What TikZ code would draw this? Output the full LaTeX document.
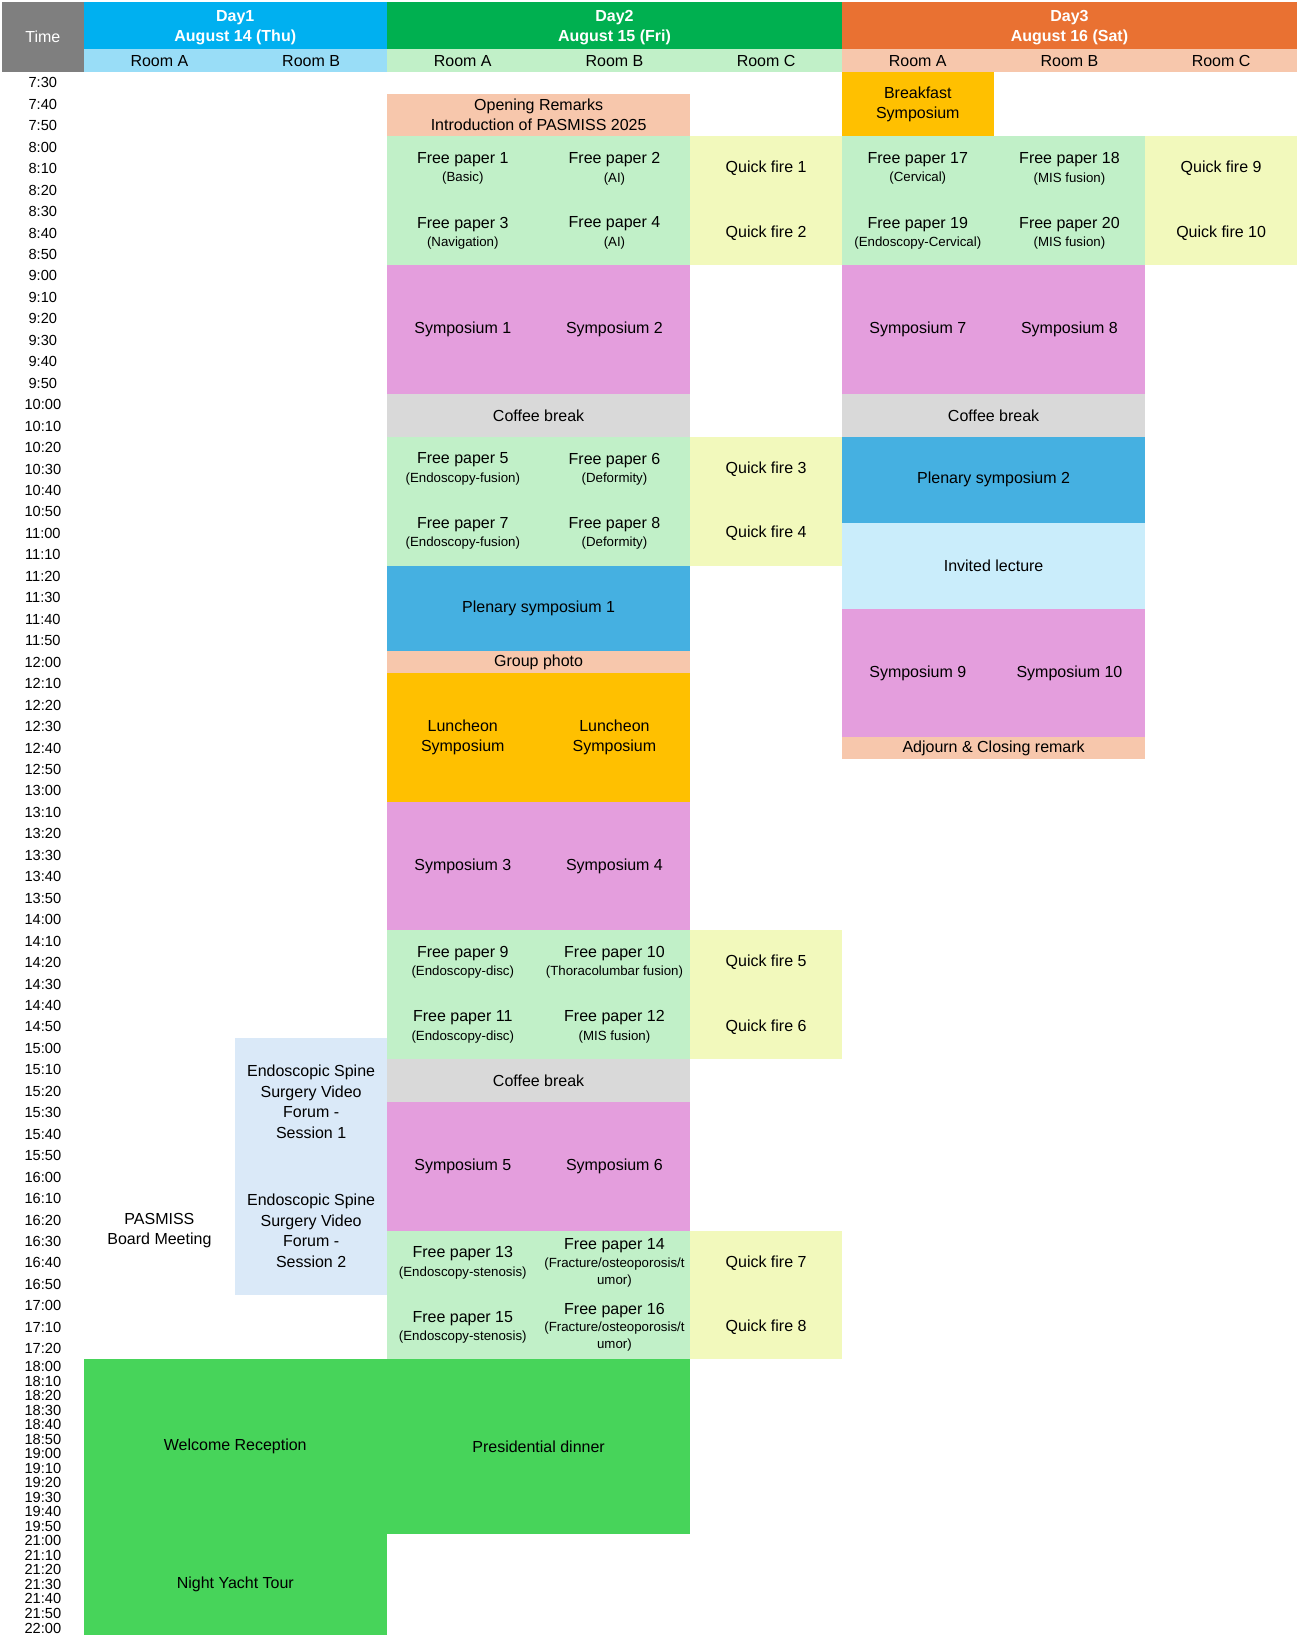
\documentclass[tikz,border=0pt]{standalone}
\usepackage{fontspec}
\setmainfont{Liberation Sans}
\definecolor{timegray}{HTML}{7F7F7F}
\definecolor{dayone}{HTML}{00B0F0}
\definecolor{daytwo}{HTML}{00B050}
\definecolor{daythree}{HTML}{E97132}
\definecolor{roomone}{HTML}{99DDF7}
\definecolor{peach}{HTML}{F7C7AC}
\definecolor{paleg}{HTML}{C1F0C8}
\definecolor{paley}{HTML}{F2F9BC}
\definecolor{orchid}{HTML}{E49EDD}
\definecolor{coffeeg}{HTML}{D9D9D9}
\definecolor{plenblue}{HTML}{45B0E1}
\definecolor{invblue}{HTML}{CAEDFB}
\definecolor{gold}{HTML}{FFC000}
\definecolor{videob}{HTML}{DAE9F8}
\definecolor{partyg}{HTML}{47D45A}
\newcommand{\sm}[1]{{\fontsize{12.7}{15}\selectfont #1}}
\newcommand{\slot}[7]{%
  \node[#2,anchor=north west,minimum width={145.125pt*((#4)-(#3))},minimum height={20.53pt*((#6)-(#5))}]
    (#1) at ({80+145.125*(#3)},{69+20.53*(#5)}) {#7};}
\newcommand{\evslot}[7]{%
  \node[#2,anchor=north west,minimum width={145.125pt*((#4)-(#3))},minimum height={13.9pt*((#6)-(#5))}]
    (#1) at ({80+145.125*(#3)},{1300.6+13.9*(#5)}) {#7};}
\tikzset{
  cell/.style={inner sep=1pt,outer sep=0pt,align=center,text=black,font=\fontsize{15.3}{19.6}\selectfont},
  dayhead/.style={cell,text=white,font=\fontsize{15.3}{19}\selectfont\bfseries},
  tlabel/.style={inner sep=0pt,text=black,font=\fontsize{14}{14}\selectfont},
  opening/.style={cell,fill=peach},
  fpaper/.style={cell,fill=paleg},
  quick/.style={cell,fill=paley},
  sympo/.style={cell,fill=orchid},
  coffee/.style={cell,fill=coffeeg},
  plenary/.style={cell,fill=plenblue},
  invited/.style={cell,fill=invblue},
  lunch/.style={cell,fill=gold},
  video/.style={cell,fill=videob},
  party/.style={cell,fill=partyg}
}
\begin{document}
\begin{tikzpicture}[x=1pt,y=-1pt]
  \useasboundingbox (0,0) rectangle (1243,1568.3);
  \node[cell,fill=timegray,text=white,anchor=north west,minimum width=78pt,minimum height=67pt] (time) at (2,2) {Time};
  \node[dayhead,fill=dayone,anchor=north west,minimum width=290.25pt,minimum height=45pt] (day1) at (80,2) {\rule{0pt}{15pt}Day1\\August 14 (Thu)};
  \node[dayhead,fill=daytwo,anchor=north west,minimum width=435.375pt,minimum height=45pt] (day2) at (370.25,2) {\rule{0pt}{15pt}Day2\\August 15 (Fri)};
  \node[dayhead,fill=daythree,anchor=north west,minimum width=435.375pt,minimum height=45pt] (day3) at (805.625,2) {\rule{0pt}{15pt}Day3\\August 16 (Sat)};
  \foreach \c/\r/\f [count=\k] in {0/A/roomone,1/B/roomone,2/A/paleg,3/B/paleg,4/C/paleg,5/A/peach,6/B/peach,7/C/peach}
    \node[cell,fill=\f,anchor=north west,minimum width=145.125pt,minimum height=22pt] (room\k) at ({80+145.125*\c},47) {Room \r};

  \foreach \i in {0,...,59}{
    \pgfmathtruncatemacro\mins{450+10*\i}
    \pgfmathtruncatemacro\hh{\mins/60}
    \pgfmathtruncatemacro\mm{\mins-60*\hh}
    \node[tlabel] (t\i) at (41,{69+20.53*(\i+0.5)}) {\hh:\ifnum\mm<10 0\fi\mm};
  }
  \foreach \t [count=\j from 0] in {18:00,18:10,18:20,18:30,18:40,18:50,19:00,19:10,19:20,19:30,19:40,19:50,21:00,21:10,21:20,21:30,21:40,21:50,22:00}
    \node[tlabel] (e\j) at (41,{1300.6+13.9*(\j+0.5)}) {\t};

  \slot{vf1}{video}{1}{2}{45}{51}{Endoscopic Spine\\Surgery Video\\Forum -\\Session 1}
  \slot{vf2}{video}{1}{2}{51}{57}{Endoscopic Spine\\Surgery Video\\Forum -\\Session 2}
  \slot{board}{cell}{0}{1}{51}{57}{PASMISS\\Board Meeting}
  \evslot{welcome}{party}{0}{2}{0}{12}{Welcome Reception}
  \evslot{yacht}{party}{0}{2}{12}{19}{Night Yacht Tour}

  \slot{open}{opening}{2}{4}{1}{3}{Opening Remarks\\Introduction of PASMISS 2025}
  \slot{fp1}{fpaper}{2}{3}{3}{6}{Free paper 1\\[-2pt]\sm{(Basic)}}
  \slot{fp2}{fpaper}{3}{4}{3}{6}{Free paper 2\\[-2pt]\sm{(AI)}}
  \slot{fp3}{fpaper}{2}{3}{6}{9}{Free paper 3\\[-2pt]\sm{(Navigation)}}
  \slot{fp4}{fpaper}{3}{4}{6}{9}{Free paper 4\\[-2pt]\sm{(AI)}}
  \slot{qf1}{quick}{4}{5}{3}{6}{Quick fire 1}
  \slot{qf2}{quick}{4}{5}{6}{9}{Quick fire 2}
  \slot{sy1}{sympo}{2}{3}{9}{15}{Symposium 1}
  \slot{sy2}{sympo}{3}{4}{9}{15}{Symposium 2}
  \slot{cb1}{coffee}{2}{4}{15}{17}{Coffee break}
  \slot{fp5}{fpaper}{2}{3}{17}{20}{Free paper 5\\[-2pt]\sm{(Endoscopy-fusion)}}
  \slot{fp6}{fpaper}{3}{4}{17}{20}{Free paper 6\\[-2pt]\sm{(Deformity)}}
  \slot{fp7}{fpaper}{2}{3}{20}{23}{Free paper 7\\[-2pt]\sm{(Endoscopy-fusion)}}
  \slot{fp8}{fpaper}{3}{4}{20}{23}{Free paper 8\\[-2pt]\sm{(Deformity)}}
  \slot{qf3}{quick}{4}{5}{17}{20}{Quick fire 3}
  \slot{qf4}{quick}{4}{5}{20}{23}{Quick fire 4}
  \slot{pl1}{plenary}{2}{4}{23}{27}{Plenary symposium 1}
  \slot{photo}{opening}{2}{4}{27}{28}{Group photo}
  \slot{lu1}{lunch}{2}{3}{28}{34}{Luncheon\\Symposium}
  \slot{lu2}{lunch}{3}{4}{28}{34}{Luncheon\\Symposium}
  \slot{sy3}{sympo}{2}{3}{34}{40}{Symposium 3}
  \slot{sy4}{sympo}{3}{4}{34}{40}{Symposium 4}
  \slot{fp9}{fpaper}{2}{3}{40}{43}{Free paper 9\\[-2pt]\sm{(Endoscopy-disc)}}
  \slot{fp10}{fpaper}{3}{4}{40}{43}{Free paper 10\\[-2pt]\sm{(Thoracolumbar fusion)}}
  \slot{fp11}{fpaper}{2}{3}{43}{46}{Free paper 11\\[-2pt]\sm{(Endoscopy-disc)}}
  \slot{fp12}{fpaper}{3}{4}{43}{46}{Free paper 12\\[-2pt]\sm{(MIS fusion)}}
  \slot{qf5}{quick}{4}{5}{40}{43}{Quick fire 5}
  \slot{qf6}{quick}{4}{5}{43}{46}{Quick fire 6}
  \slot{cb2}{coffee}{2}{4}{46}{48}{Coffee break}
  \slot{sy5}{sympo}{2}{3}{48}{54}{Symposium 5}
  \slot{sy6}{sympo}{3}{4}{48}{54}{Symposium 6}
  \slot{fp13}{fpaper}{2}{3}{54}{57}{Free paper 13\\[-2pt]\sm{(Endoscopy-stenosis)}}
  \slot{fp14}{fpaper}{3}{4}{54}{57}{Free paper 14\\[-3pt]\sm{(Fracture/osteoporosis/t}\\[-3pt]\sm{umor)}}
  \slot{fp15}{fpaper}{2}{3}{57}{60}{Free paper 15\\[-2pt]\sm{(Endoscopy-stenosis)}}
  \slot{fp16}{fpaper}{3}{4}{57}{60}{Free paper 16\\[-3pt]\sm{(Fracture/osteoporosis/t}\\[-3pt]\sm{umor)}}
  \slot{qf7}{quick}{4}{5}{54}{57}{Quick fire 7}
  \slot{qf8}{quick}{4}{5}{57}{60}{Quick fire 8}
  \evslot{dinner}{party}{2}{4}{0}{12}{Presidential dinner}

  \slot{bf}{lunch}{5}{6}{0}{3}{Breakfast\\Symposium}
  \slot{fp17}{fpaper}{5}{6}{3}{6}{Free paper 17\\[-2pt]\sm{(Cervical)}}
  \slot{fp18}{fpaper}{6}{7}{3}{6}{Free paper 18\\[-2pt]\sm{(MIS fusion)}}
  \slot{fp19}{fpaper}{5}{6}{6}{9}{Free paper 19\\[-2pt]\sm{(Endoscopy-Cervical)}}
  \slot{fp20}{fpaper}{6}{7}{6}{9}{Free paper 20\\[-2pt]\sm{(MIS fusion)}}
  \slot{qf9}{quick}{7}{8}{3}{6}{Quick fire 9}
  \slot{qf10}{quick}{7}{8}{6}{9}{Quick fire 10}
  \slot{sy7}{sympo}{5}{6}{9}{15}{Symposium 7}
  \slot{sy8}{sympo}{6}{7}{9}{15}{Symposium 8}
  \slot{cb3}{coffee}{5}{7}{15}{17}{Coffee break}
  \slot{pl2}{plenary}{5}{7}{17}{21}{Plenary symposium 2}
  \slot{inv}{invited}{5}{7}{21}{25}{Invited lecture}
  \slot{sy9}{sympo}{5}{6}{25}{31}{Symposium 9}
  \slot{sy10}{sympo}{6}{7}{25}{31}{Symposium 10}
  \slot{adj}{opening}{5}{7}{31}{32}{Adjourn \& Closing remark}
\end{tikzpicture}
\end{document}
